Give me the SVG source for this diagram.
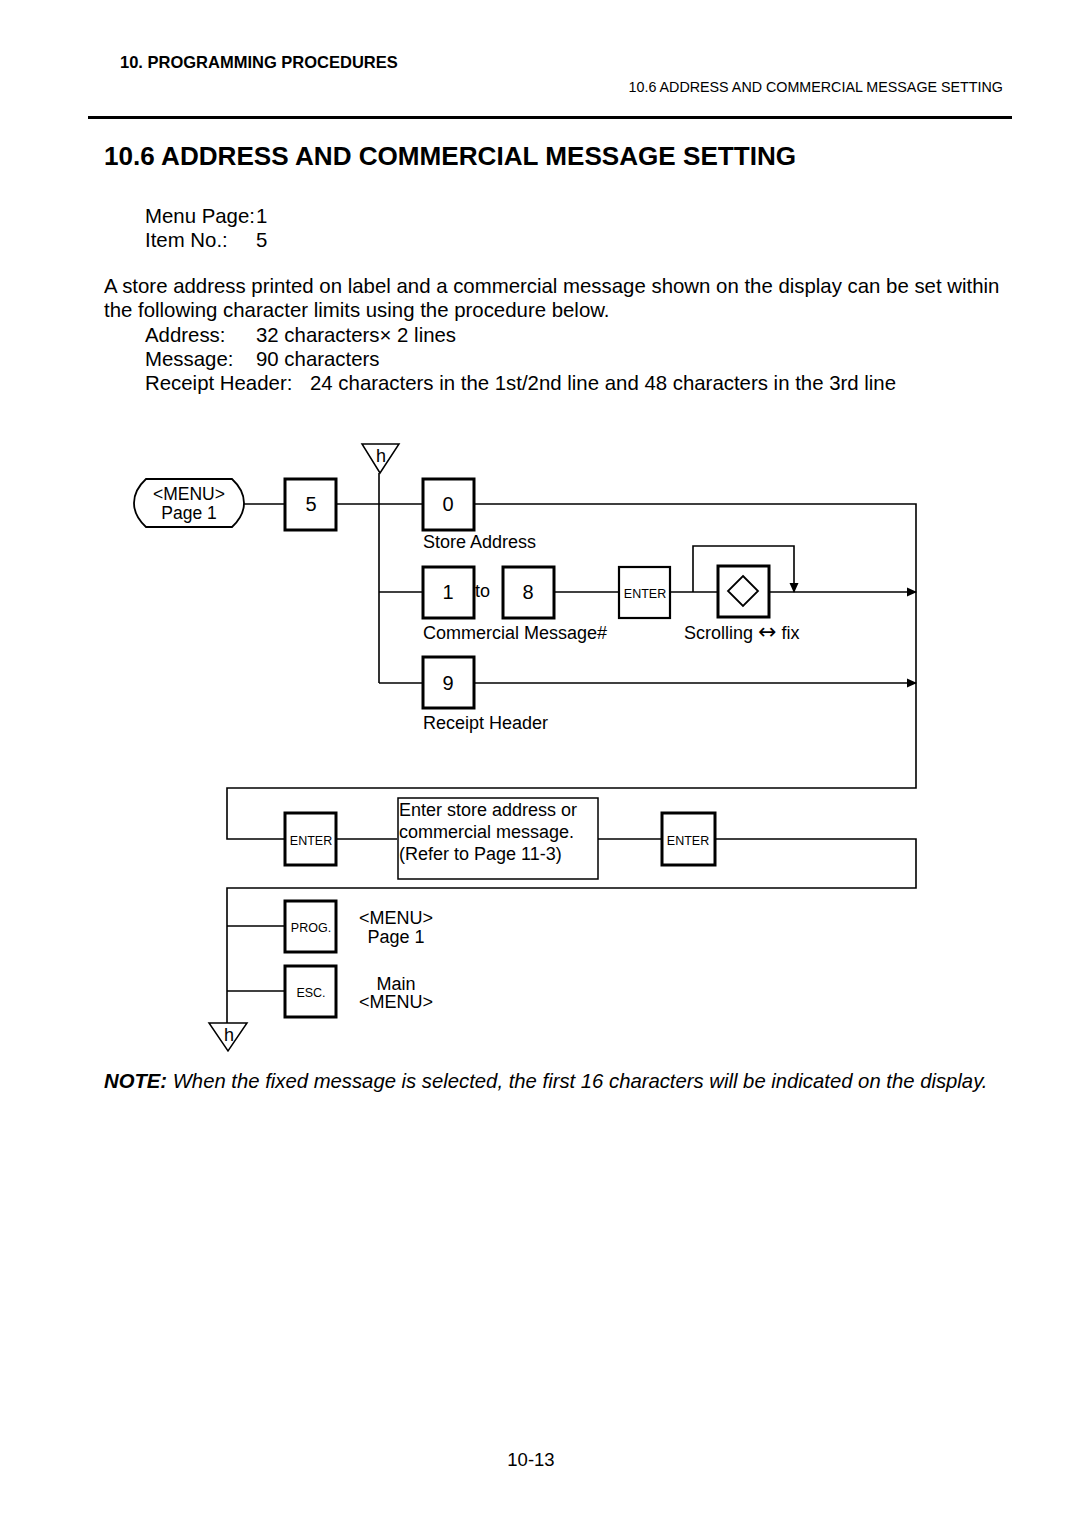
<svg xmlns="http://www.w3.org/2000/svg" width="1080" height="1528" viewBox="0 0 1080 1528">
<style>
text{font-family:"Liberation Sans",Arial,sans-serif;fill:#000}
.body{font-size:20.4px}
.lbl{font-size:18px}
.key{fill:#fff;stroke:#000;stroke-width:3}
.keyt{fill:#fff;stroke:#000;stroke-width:2.2}
.ln{fill:none;stroke:#000;stroke-width:1.6}
.num{font-size:20px;text-anchor:middle}
.small{font-size:12.5px;text-anchor:middle}
.c{text-anchor:middle}
</style>
<defs>
<marker id="ah" markerWidth="10" markerHeight="10" refX="9" refY="5" orient="auto" markerUnits="userSpaceOnUse">
<path d="M0,0.5 L10,5 L0,9.5 Z" fill="#000"/>
</marker>
</defs>
<rect width="1080" height="1528" fill="#fff"/>
<!-- header -->
<text x="120" y="68" style="font-size:16.5px;font-weight:bold">10. PROGRAMMING PROCEDURES</text>
<text x="1003" y="92" style="font-size:14.3px" text-anchor="end">10.6 ADDRESS AND COMMERCIAL MESSAGE SETTING</text>
<rect x="88" y="116" width="924" height="3" fill="#000"/>
<text x="104" y="165" style="font-size:26.1px;font-weight:bold">10.6  ADDRESS AND COMMERCIAL MESSAGE SETTING</text>
<text class="body" x="145" y="223">Menu Page:</text><text class="body" x="256" y="223">1</text>
<text class="body" x="145" y="247">Item No.:</text><text class="body" x="256" y="247">5</text>
<text class="body" x="104" y="293">A store address printed on label and a commercial message shown on the display can be set within</text>
<text class="body" x="104" y="317">the following character limits using the procedure below.</text>
<text class="body" x="145" y="342">Address:</text><text class="body" x="256" y="342">32 characters× 2 lines</text>
<text class="body" x="145" y="366">Message:</text><text class="body" x="256" y="366">90 characters</text>
<text class="body" x="145" y="390">Receipt Header:</text><text class="body" x="310" y="390">24 characters in the 1st/2nd line and 48 characters in the 3rd line</text>

<!-- connectors -->
<g id="connectors" class="ln">
<line x1="244" y1="504" x2="284" y2="504"/>
<line x1="337" y1="504" x2="422" y2="504"/>
<polyline points="474,504 916,504 916,788 227,788 227,839 284,839"/>
<line x1="379" y1="473" x2="379" y2="683"/>
<line x1="379" y1="592" x2="422" y2="592"/>
<line x1="379" y1="683" x2="422" y2="683"/>
<line x1="555" y1="592" x2="618" y2="592"/>
<line x1="671" y1="592" x2="717" y2="592"/>
<line x1="770" y1="592" x2="916" y2="592" marker-end="url(#ah)"/>
<polyline points="693,592 693,546 794,546 794,592" marker-end="url(#ah)"/>
<line x1="475" y1="683" x2="916" y2="683" marker-end="url(#ah)"/>
<line x1="337" y1="839" x2="397" y2="839"/>
<line x1="598" y1="839" x2="661" y2="839"/>
<polyline points="716,839 916,839 916,888 227,888 227,1023"/>
<line x1="227" y1="926" x2="284" y2="926"/>
<line x1="227" y1="991" x2="284" y2="991"/>
</g>

<!-- nodes -->
<g id="h-top">
<polygon points="362,444 399,444 380,473" fill="#fff" stroke="#000" stroke-width="1.5"/>
<text x="381" y="462" class="c" style="font-size:18px">h</text>
</g>
<g id="menu-start">
<path d="M146,479 L232,479 Q244,490 244,503 Q244,516 232,527 L146,527 Q134,516 134,503 Q134,490 146,479 Z" fill="#fff" stroke="#000" stroke-width="1.8"/>
<text x="189" y="500" class="c" style="font-size:17.5px">&lt;MENU&gt;</text>
<text x="189" y="519" class="c" style="font-size:17.5px">Page 1</text>
</g>
<g id="key-5"><rect class="key" x="285" y="479" width="51" height="51"/><text class="num" x="311" y="511">5</text></g>
<g id="key-0"><rect class="key" x="423" y="479" width="51" height="51"/><text class="num" x="448" y="511">0</text>
<text class="lbl" x="423" y="548">Store Address</text></g>
<g id="key-1to8">
<text class="lbl" x="475" y="597">to</text>
<rect class="key" x="423" y="567" width="51" height="51"/><text class="num" x="448" y="599">1</text>
<rect class="key" x="503" y="567" width="51" height="51"/><text class="num" x="528" y="599">8</text>
<text class="lbl" x="423" y="639">Commercial Message#</text>
</g>
<g id="key-enter1"><rect class="keyt" x="619" y="567" width="51" height="51"/><text class="small" x="645" y="598">ENTER</text></g>
<g id="key-diamond"><rect class="key" x="718" y="566" width="51" height="51"/>
<polygon points="743,576 758,591 743,606 728,591" fill="none" stroke="#000" stroke-width="1.8"/>
<text class="lbl" x="684" y="639">Scrolling <tspan style="font-family:'DejaVu Sans',sans-serif;font-size:22px">↔</tspan> fix</text></g>
<g id="key-9"><rect class="key" x="423" y="657" width="51" height="51"/><text class="num" x="448" y="690">9</text>
<text class="lbl" x="423" y="729">Receipt Header</text></g>
<g id="key-enter2"><rect class="key" x="285" y="813" width="51" height="52"/><text class="small" x="311" y="845">ENTER</text></g>
<g id="input-box"><rect x="398" y="798" width="200" height="81" fill="#fff" stroke="#000" stroke-width="1.5"/>
<text class="lbl" x="399" y="816">Enter store address or</text>
<text class="lbl" x="399" y="838">commercial message.</text>
<text class="lbl" x="399" y="860">(Refer to Page 11-3)</text></g>
<g id="key-enter3"><rect class="key" x="662" y="813" width="53" height="52"/><text class="small" x="688" y="845">ENTER</text></g>
<g id="key-prog"><rect class="key" x="285" y="901" width="51" height="51"/><text class="small" x="311" y="932">PROG.</text>
<text class="lbl c" x="396" y="924">&lt;MENU&gt;</text><text class="lbl c" x="396" y="943">Page 1</text></g>
<g id="key-esc"><rect class="key" x="285" y="966" width="51" height="51"/><text class="small" x="311" y="997">ESC.</text>
<text class="lbl c" x="396" y="990">Main</text><text class="lbl c" x="396" y="1008">&lt;MENU&gt;</text></g>
<g id="h-bottom">
<polygon points="209,1023 247,1023 228,1051" fill="#fff" stroke="#000" stroke-width="1.5"/>
<text x="229" y="1041" class="c" style="font-size:18px">h</text>
</g>

<text x="104" y="1088" style="font-size:20.3px;font-style:italic"><tspan font-weight="bold">NOTE:</tspan>  When the fixed message is selected, the first 16 characters will be indicated on the display.</text>
<text x="531" y="1466" class="c" style="font-size:18.5px">10-13</text>
</svg>
